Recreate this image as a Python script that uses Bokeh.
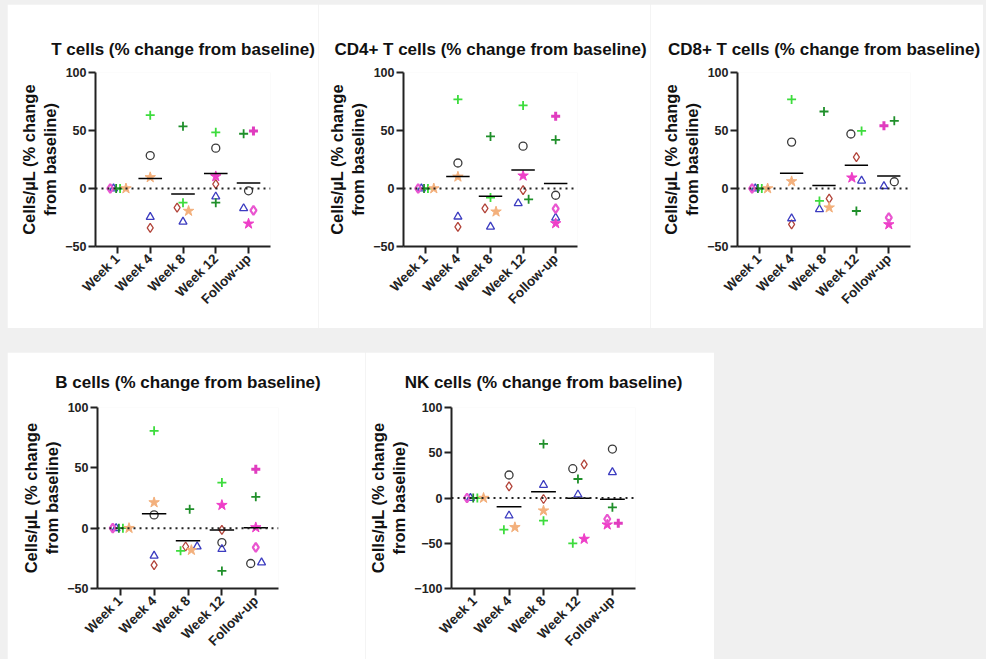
import math
from bokeh.plotting import figure
from bokeh.models import Range1d, FixedTicker, Span, Spacer
from bokeh.layouts import row, column
from bokeh.embed import file_html
from bokeh.resources import INLINE

N = None
TIMEPOINTS = ["Week 1", "Week 4", "Week 8", "Week 12", "Follow-up"]

# ---- T cells (% change) : one list per subject, values for the 5 timepoints
T_A = [N, 28.4, N, 34.8, -2.0]
T_B = [N, -33.9, -16.5, 3.8, N]
T_C = [0, -24.6, -28.7, -7.0, -17.1]
T_D = [0, 63.2, -12.2, 48.4, N]
T_E = [0, N, 53.6, -12.2, 47.2]
T_F = [0, 9.6, -19.4, N, N]
T_G = [N, N, N, 10.4, -30.4]
T_H = [0, N, N, N, -18.8]
T_I = [N, N, N, N, 49.6]

# ---- CD4+ T cells
CD4_A = [N, 22.0, N, 36.5, -5.8]
CD4_B = [N, -33.0, -17.1, -1.4, N]
CD4_C = [0, -24.3, -33.0, -12.8, -25.2]
CD4_D = [0, 76.8, -7.8, 71.6, N]
CD4_E = [0, N, 44.9, -9.3, 42.0]
CD4_F = [0, 10.1, -20.0, N, N]
CD4_G = [N, N, N, 11.0, -30.1]
CD4_H = [0, N, N, N, -17.4]
CD4_I = [N, N, N, N, 62.3]

# ---- CD8+ T cells
CD8_A = [N, 40.0, N, 47.0, 5.8]
CD8_B = [N, -31.0, -8.7, 27.0, N]
CD8_C = [0, -25.8, -18.0, 6.7, 2.0]
CD8_D = [0, 76.8, -10.7, 49.6, N]
CD8_E = [0, N, 66.4, -19.4, 58.3]
CD8_F = [0, 6.1, -16.5, N, N]
CD8_G = [N, N, N, 9.3, -31.0]
CD8_H = [0, N, N, N, -25.2]
CD8_I = [N, N, N, N, 54.2]

# ---- B cells
B_A = [N, 11.0, N, -11.9, -29.3]
B_B = [N, -30.7, -15.2, -1.4, N]
B_C = [0, -22.9, -15.2, -17.4, -28.5]
B_D = [0, 80.7, -18.8, 37.8, N]
B_E = [0, N, 15.7, -35.4, 26.0]
B_F = [0, 21.3, -18.2, N, N]
B_G = [N, N, N, 19.1, 0.6]
B_H = [0, N, N, N, -16.0]
B_I = [N, N, N, N, 48.9]

# ---- NK cells
NK_A = [N, 25.4, N, 32.4, 54.1]
NK_B = [N, 12.9, -1.1, 37.2, N]
NK_C = [0, -19.5, 14.4, 3.7, 28.4]
NK_D = [0, -35.0, -25.0, -50.1, N]
NK_E = [0, N, 59.7, 21.0, -10.3]
NK_F = [0, -32.4, -14.0, N, N]
NK_G = [N, N, N, -45.3, -29.5]
NK_H = [0, N, N, N, -23.2]
NK_I = [N, N, N, N, -28.0]

# ---- horizontal scatter spread (style only)
JIT_W1 = {"H": -0.22, "C": -0.12, "E": -0.04, "D": 0.08, "F": 0.26}
JIT_T = {("B", 2): -0.18, ("F", 2): 0.17, ("E", 4): -0.15, ("I", 4): 0.15,
         ("C", 4): -0.15, ("H", 4): 0.15}
JIT_CD4 = {("B", 2): -0.17, ("F", 2): 0.17, ("C", 3): -0.15, ("E", 3): 0.17}
JIT_CD8 = {("D", 2): -0.14, ("B", 2): 0.16, ("C", 2): -0.14, ("F", 2): 0.16,
           ("A", 3): -0.17, ("D", 3): 0.16, ("G", 3): -0.14, ("C", 3): 0.16,
           ("I", 4): -0.15, ("E", 4): 0.17, ("C", 4): -0.15, ("A", 4): 0.17}
JIT_B = {("D", 2): -0.22, ("B", 2): -0.07, ("F", 2): 0.1, ("C", 2): 0.27,
         ("E", 2): 0.05, ("A", 4): -0.15, ("C", 4): 0.17}
JIT_NK = {("D", 1): -0.15, ("F", 1): 0.17, ("A", 3): -0.15, ("B", 3): 0.18,
          ("D", 3): -0.15, ("G", 3): 0.18, ("H", 4): -0.15, ("G", 4): -0.15,
          ("I", 4): 0.17}

STYLE = {
    "A": dict(marker="circle", line_color="#3a3a3a", fill_color=None, size=8, line_width=1.3),
    "B": dict(marker="diamond", line_color="#b2443a", fill_color=None, size=9, line_width=1.3),
    "C": dict(marker="triangle", line_color="#3c3cc0", fill_color=None, size=8, line_width=1.3),
    "D": dict(marker="cross", line_color="#3ddc3d", fill_color=None, size=9, line_width=1.8),
    "E": dict(marker="cross", line_color="#1f8f2a", fill_color=None, size=9, line_width=1.8),
    "F": dict(marker="star", line_color="#f3b07c", fill_color="#f3b07c", size=11, line_width=1),
    "G": dict(marker="star", line_color="#ee3fc8", fill_color="#ee3fc8", size=11, line_width=1),
    "H": dict(marker="diamond", line_color="#e956d0", fill_color=None, size=9, line_width=2.2),
    "I": dict(marker="cross", line_color="#e03cbf", fill_color=None, size=9, line_width=3),
}

FONT = "Liberation Sans"


def make_panel(title, subjects, jit, yr, yticks, fw, fh, left, right, top, bottom, tstand):
    p = figure(frame_width=fw, frame_height=fh, output_backend="svg", toolbar_location=None,
               x_range=Range1d(0.33, 5.67), y_range=Range1d(*yr),
               min_border_left=left, min_border_right=right,
               min_border_top=top, min_border_bottom=bottom,
               background_fill_color="white", border_fill_color="white",
               outline_line_color=None)
    p.title.text = title
    p.title.align = "center"
    p.title.text_font = FONT
    p.title.text_font_size = "17px"
    p.title.text_font_style = "bold"
    p.title.text_color = "#111111"
    p.title.standoff = tstand
    p.grid.visible = False

    p.add_layout(Span(location=0, dimension="width", line_color="#222222",
                      line_dash="2 4", line_width=2))

    for s, vals in subjects.items():
        xs, ys = [], []
        for i, v in enumerate(vals):
            if v is None:
                continue
            off = JIT_W1.get(s, 0) if i == 0 else jit.get((s, i), 0)
            xs.append(i + 1 + off)
            ys.append(v)
        p.scatter(xs, ys, **STYLE[s])
    for i in range(1, 5):
        vals = [v[i] for v in subjects.values() if v[i] is not None]
        m = sum(vals) / len(vals)
        p.segment(x0=[i + 1 - 0.36], x1=[i + 1 + 0.36], y0=[m], y1=[m],
                  line_color="black", line_width=1.5)

    for ax in (p.xaxis[0], p.yaxis[0]):
        ax.axis_line_width = 2
        ax.axis_line_color = "#222222"
        ax.major_tick_line_width = 2
        ax.major_tick_line_color = "#222222"
        ax.major_tick_out = 7
        ax.major_tick_in = 0
        ax.minor_tick_line_color = None
        ax.major_label_text_font = FONT
        ax.major_label_text_font_style = "bold"
        ax.major_label_text_color = "#222222"
    p.xaxis.ticker = FixedTicker(ticks=[1, 2, 3, 4, 5])
    p.xaxis.major_label_overrides = {i + 1: t for i, t in enumerate(TIMEPOINTS)}
    p.xaxis.major_label_orientation = math.pi / 4
    p.xaxis.major_label_text_font_size = "13.5px"
    p.xaxis.major_label_standoff = 3
    p.yaxis.ticker = FixedTicker(ticks=yticks)
    p.yaxis.major_label_text_font_size = "12.5px"
    p.yaxis.major_label_standoff = 2
    p.yaxis.axis_label = "Cells/\u00b5L (% change\nfrom baseline)"
    p.yaxis.axis_label_text_font = FONT
    p.yaxis.axis_label_text_font_size = "16.5px"
    p.yaxis.axis_label_text_font_style = "bold"
    p.yaxis.axis_label_text_color = "#111111"
    p.yaxis.axis_label_standoff = 3
    return p


def subj(prefix):
    g = globals()
    return {k: g[f"{prefix}_{k}"] for k in "ABCDEFGHI"}


f1 = make_panel("T cells (% change from baseline)", subj("T"), JIT_T, (-50, 100),
                [-50, 0, 50, 100], 175, 174, 88, 48, 68, 82, 27)
f2 = make_panel("CD4+ T cells (% change from baseline)", subj("CD4"), JIT_CD4, (-50, 100),
                [-50, 0, 50, 100], 174, 174, 85, 73, 68, 82, 27)
f3 = make_panel("CD8+ T cells (% change from baseline)", subj("CD8"), JIT_CD8, (-50, 100),
                [-50, 0, 50, 100], 173, 174, 87, 73, 68, 82, 27)
f4 = make_panel("B cells (% change from baseline)", subj("B"), JIT_B, (-50, 100),
                [-50, 0, 50, 100], 181, 181, 90, 87, 55, 71, 32)
f5 = make_panel("NK cells (% change from baseline)", subj("NK"), JIT_NK, (-100, 100),
                [-100, -50, 0, 50, 100], 184, 181, 83, 79, 55, 71, 32)

GREY = {"background-color": "#f0f0f0"}
inner = column(
    row(f1, f2, f3),
    Spacer(width=976, height=24, styles=GREY),
    row(f4, f5, Spacer(width=272, height=307, styles=GREY)),
    styles=GREY,
)
layout = column(
    Spacer(width=983, height=4, styles=GREY),
    row(Spacer(width=7, height=655, styles=GREY), inner, styles=GREY),
    styles=GREY,
)

open("out.html", "w").write(file_html(layout, INLINE))
